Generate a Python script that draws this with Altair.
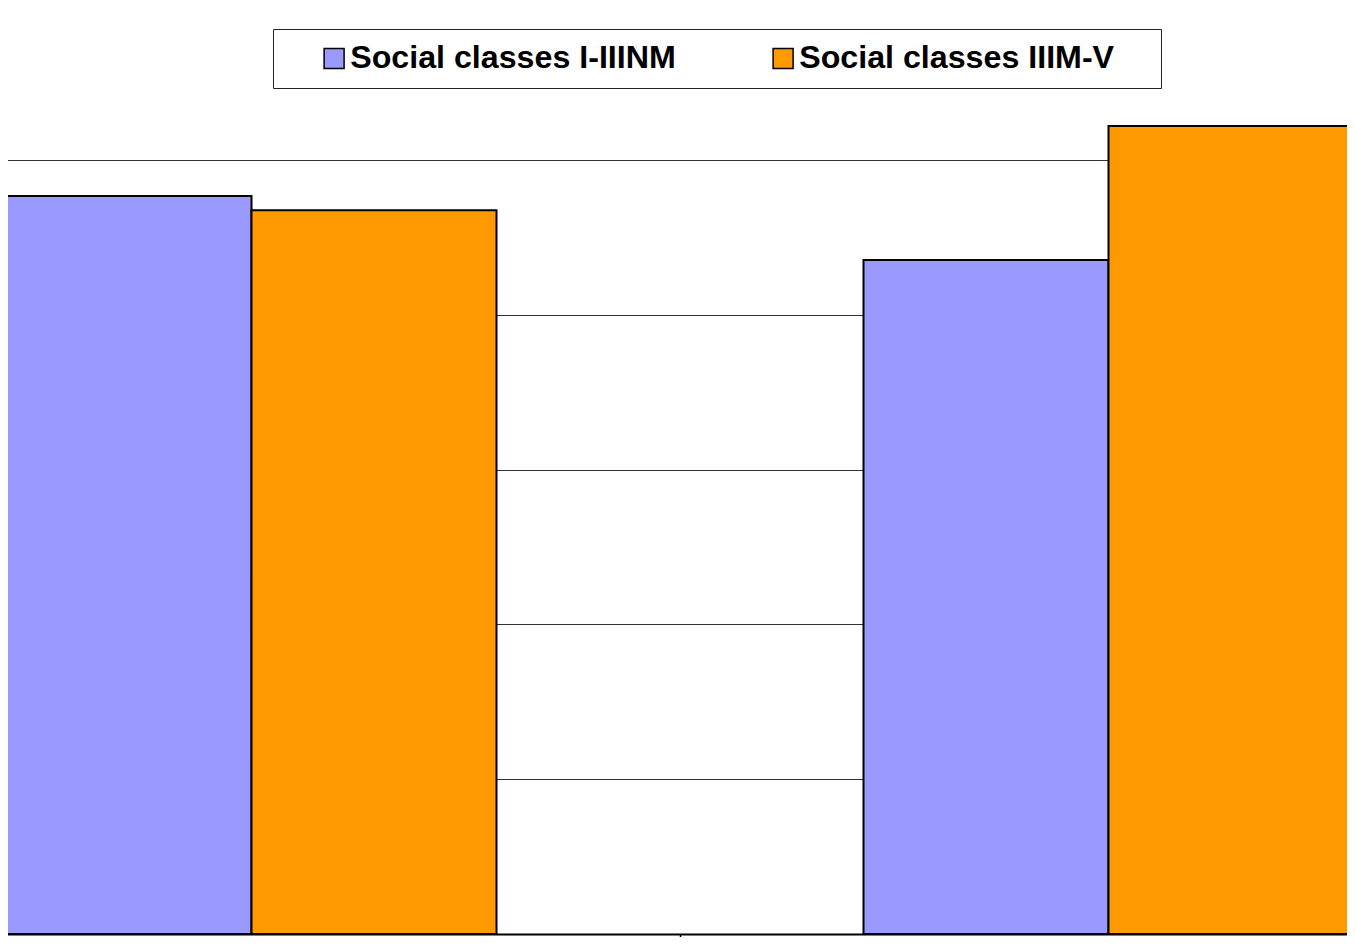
import altair as alt
import pandas as pd

categories = ["Group 1", "Group 2"]
series = ["Social classes I-IIINM", "Social classes IIIM-V"]
values_low = [23.84, 21.77]    # Social classes I-IIINM
values_high = [23.38, 26.10]   # Social classes IIIM-V
colors = ["#9999FF", "#FF9900"]
grid_values = [0, 5, 10, 15, 20, 25]

rows = []
for i, c in enumerate(categories):
    rows.append({"category": c, "series": series[0], "value": values_low[i]})
    rows.append({"category": c, "series": series[1], "value": values_high[i]})
df = pd.DataFrame(rows)

# trailing non-breaking spaces kept by a final zero-width space (right padding of legend box)
TAIL = "\u00a0" * 3 + "\u2009" + "\u200b"
label_expr = ("datum.label == '" + series[1] + "' ? datum.label + '" + TAIL
              + "' : datum.label")

chart = alt.Chart(df).mark_bar(stroke="black", strokeWidth=2).encode(
    x=alt.X(
        "category:N",
        sort=categories,
        scale=alt.Scale(range=[-185, 1529], paddingInner=0, paddingOuter=0),
        axis=alt.Axis(title=None, labels=False, bandPosition=0, tickSize=12,
                      tickColor="black", tickWidth=1.5, domainColor="black",
                      domainWidth=2, grid=False),
    ),
    xOffset=alt.XOffset("series:N", sort=series,
                        scale=alt.Scale(paddingOuter=0.749, paddingInner=0)),
    y=alt.Y(
        "value:Q",
        scale=alt.Scale(domain=[0, 29.91], nice=False, zero=True),
        axis=alt.Axis(title=None, labels=False, ticks=False, domain=False,
                      values=grid_values, gridColor="#333333", gridWidth=1),
    ),
    color=alt.Color(
        "series:N",
        sort=series,
        scale=alt.Scale(domain=series, range=colors),
        legend=alt.Legend(
            title=None, orient="none", legendX=265, legendY=21,
            direction="horizontal", symbolType="square", symbolSize=400,
            symbolStrokeColor="black", symbolStrokeWidth=1.5,
            labelFont="Liberation Sans", labelFontSize=32.2,
            labelFontWeight="bold", labelColor="black", labelLimit=1000,
            padding=13, strokeColor="#222222", fillColor="white",
            symbolOffset=32, labelOffset=0, columnPadding=59,
            labelExpr=label_expr,
        ),
    ),
).properties(
    width=1339, height=926,
    autosize=alt.AutoSizeParams(type="none"),
    padding={"left": 0, "top": 0, "right": 0, "bottom": 3},
).configure_view(strokeWidth=0)

chart.save("out.html", embed_options={"renderer": "svg", "actions": False})
